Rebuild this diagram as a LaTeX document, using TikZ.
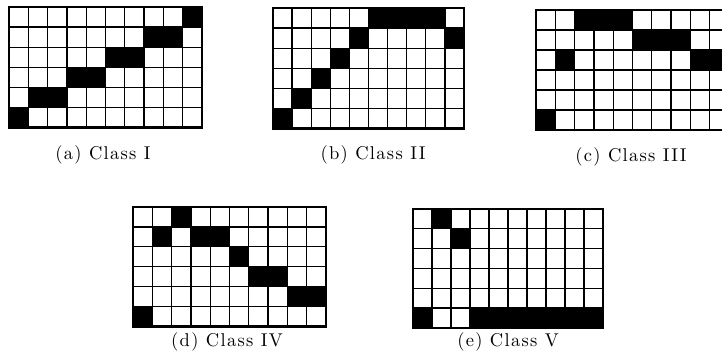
\documentclass[tikz,border=0pt]{standalone}
\usepackage{fontspec}
\usepackage{tikz}
\usetikzlibrary{positioning}

\newfontfamily\classfont{lmroman10-regular}[Extension=.otf, LetterSpace=7]

\tikzset{
  gridline/.style={line width=1.3pt},
  gridframe/.style={line width=2.3pt},
  cellfill/.style={fill=black},
  classlabel/.style={font=\classfont\fontsize{18.5}{21}\selectfont, inner sep=0pt}
}

\begin{document}
\begin{tikzpicture}[x=1pt,y=-1pt]
        \useasboundingbox (0,0) rectangle (722,358);
        \clip (0,0) rectangle (722,358);

        % (a) Class I
        \begin{scope}[xshift=9pt,yshift=-7pt,x=19.3pt,y=-20.1pt]
            \foreach \c/\r in {9/0,7/1,8/1,5/2,6/2,3/3,4/3,1/4,2/4,0/5}
                \fill[cellfill] (\c,\r) rectangle ++(1,1);
            \foreach \i in {1,...,9} \draw[gridline] (\i,0) -- (\i,6);
            \foreach \j in {1,...,5} \draw[gridline] (0,\j) -- (10,\j);
            \draw[gridframe] (0,0) rectangle (10,6);
        \end{scope}
        \node (capA)[classlabel] at (103,155) {(a) Class I};

        % (b) Class II
        \begin{scope}[xshift=273pt,yshift=-8pt,x=19.1pt,y=-20.1pt]
            \foreach \c/\r in {5/0,6/0,7/0,8/0,4/1,9/1,3/2,2/3,1/4,0/5}
                \fill[cellfill] (\c,\r) rectangle ++(1,1);
            \foreach \i in {1,...,9} \draw[gridline] (\i,0) -- (\i,6);
            \foreach \j in {1,...,5} \draw[gridline] (0,\j) -- (10,\j);
            \draw[gridframe] (0,0) rectangle (10,6);
        \end{scope}
        \node (capB)[classlabel] at (373,155) {(b) Class II};

        % (c) Class III
        \begin{scope}[xshift=536pt,yshift=-10pt,x=19.3pt,y=-20pt]
            \foreach \c/\r in {2/0,3/0,4/0,5/1,6/1,7/1,1/2,8/2,9/2,0/5}
                \fill[cellfill] (\c,\r) rectangle ++(1,1);
            \foreach \i in {1,...,9} \draw[gridline] (\i,0) -- (\i,6);
            \foreach \j in {1,...,5} \draw[gridline] (0,\j) -- (10,\j);
            \draw[gridframe] (0,0) rectangle (10,6);
        \end{scope}
        \node (capC)[classlabel] at (631,157) {(c) Class III};

        % (d) Class IV
        \begin{scope}[xshift=133pt,yshift=-207pt,x=19.3pt,y=-19.9pt]
            \foreach \c/\r in {2/0,1/1,3/1,4/1,5/2,6/3,7/3,8/4,9/4,0/5}
                \fill[cellfill] (\c,\r) rectangle ++(1,1);
            \foreach \i in {1,...,9} \draw[gridline] (\i,0) -- (\i,6);
            \foreach \j in {1,...,5} \draw[gridline] (0,\j) -- (10,\j);
            \draw[gridframe] (0,0) rectangle (10,6);
        \end{scope}
        \node (capD)[classlabel] at (227,342) {(d) Class IV};

        % (e) Class V
        \begin{scope}[xshift=413pt,yshift=-209pt,x=19pt,y=-19.8pt]
            \foreach \c/\r in {1/0,2/1,0/5}
                \fill[cellfill] (\c,\r) rectangle ++(1,1);
            \fill[cellfill] (3,5) rectangle (10,6);
            \foreach \i in {1,...,9} \draw[gridline] (\i,0) -- (\i,6);
            \foreach \j in {1,...,5} \draw[gridline] (0,\j) -- (10,\j);
            \draw[gridframe] (0,0) rectangle (10,6);
        \end{scope}
        \node (capE)[classlabel] at (508,342) {(e) Class V};
    \end{tikzpicture}
\end{document}
